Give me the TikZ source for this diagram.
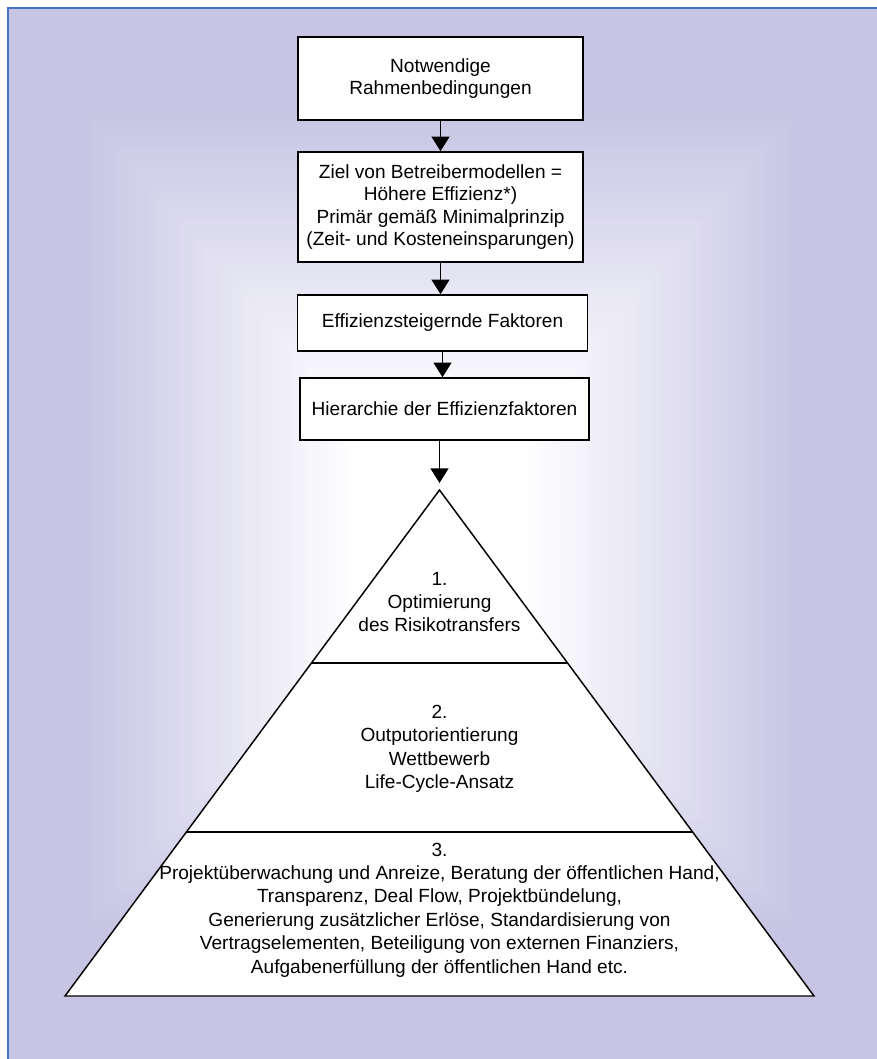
\documentclass[tikz,border=0pt]{standalone}
\usepackage{fontspec}
\setmainfont{Liberation Sans}
\usetikzlibrary{arrows.meta,calc}
\definecolor{lav}{RGB}{200,197,228}
\definecolor{frameblue}{RGB}{68,114,196}

\begin{document}
\begin{tikzpicture}[x=0.75pt,y=-0.75pt,
  box/.style={font=\fontsize{14.3pt}{16.7pt}\selectfont,draw=black,fill=white,line width=1.2pt,align=center,inner sep=0pt},
  layertext/.style={font=\fontsize{14.3pt}{17.6pt}\selectfont,align=center,inner sep=0pt},
  flow/.style={line width=1.1pt,-{Triangle[width=13.5pt,length=11pt]}},
  pyr/.style={draw=black,line width=1.1pt,line join=miter}]

% page and backdrop
\useasboundingbox (0,0) rectangle (876,1059);
\fill[white] (-10,-10) rectangle (890,1075);
\begin{scope}
  \clip (7.7,7.7) rectangle (890,1075);
  % rectangular gradient: white in the middle, lavender towards the edges
  \foreach \k in {0,...,130}{
    \pgfmathsetmacro\t{1.31-0.01*\k}
    \pgfmathsetmacro\p{max(0,min(100,(\t-0.2)/0.62*100))}
    \fill[lav!\p!white] ({441-435*\t},{520-500*\t}) rectangle ({441+435*\t},{520+500*\t});
  }
\end{scope}
\draw[frameblue,line width=1.5pt] (7.7,1080) -- (7.7,7.7) -- (895,7.7);

% flow of boxes
\node[box,minimum width=213.75pt,minimum height=62.25pt] (b1) at (440.5,78.5)
  {Notwendige\\Rahmenbedingungen};
\node[box,minimum width=213.75pt,minimum height=82.5pt] (b2) at (440.5,207)
  {Ziel von Betreibermodellen =\\H\"ohere Effizienz*)\\Prim\"ar gem\"a\ss{} Minimalprinzip\\(Zeit- und Kosteneinsparungen)};
\node[box,minimum width=217.5pt,minimum height=42pt] (b3) at (442.5,323)
  {Effizienzsteigernde Faktoren};
\node[box,minimum width=216.75pt,minimum height=46.5pt] (b4) at (444.5,409)
  {Hierarchie der Effizienzfaktoren};

% pyramid
\coordinate (apex) at (439.5,490);
\coordinate (bl) at (65,996);
\coordinate (br) at (814,996);
\filldraw[pyr,fill=white] (apex) -- (br) -- (bl) -- cycle;
\draw[pyr] ($(apex)!0.3419!(bl)$) -- ($(apex)!0.3419!(br)$);
\draw[pyr] ($(apex)!0.6759!(bl)$) -- ($(apex)!0.6759!(br)$);

\node[layertext] (t1) at (439.5,602) {1.\\Optimierung\\des Risikotransfers};
\node[layertext] (t2) at (439.5,749) {2.\\Outputorientierung\\Wettbewerb\\Life-Cycle-Ansatz};
\node[layertext] (t3) at (439.5,910) {3.\\Projekt\"uberwachung und Anreize, Beratung der \"offentlichen Hand,\\Transparenz, Deal Flow, Projektb\"undelung,\\Generierung zus\"atzlicher Erl\"ose, Standardisierung von\\Vertragselementen, Beteiligung von externen Finanziers,\\Aufgabenerf\"ullung der \"offentlichen Hand etc.};

% connectors
\draw[flow] (b1.south) -- (b2.north);
\draw[flow] (b2.south) -- (b2.south |- b3.north);
\draw[flow] (b3.south) -- (b3.south |- b4.north);
\draw[flow,shorten >=5.25pt] (b4.south -| apex) -- (apex);
\end{tikzpicture}
\end{document}
